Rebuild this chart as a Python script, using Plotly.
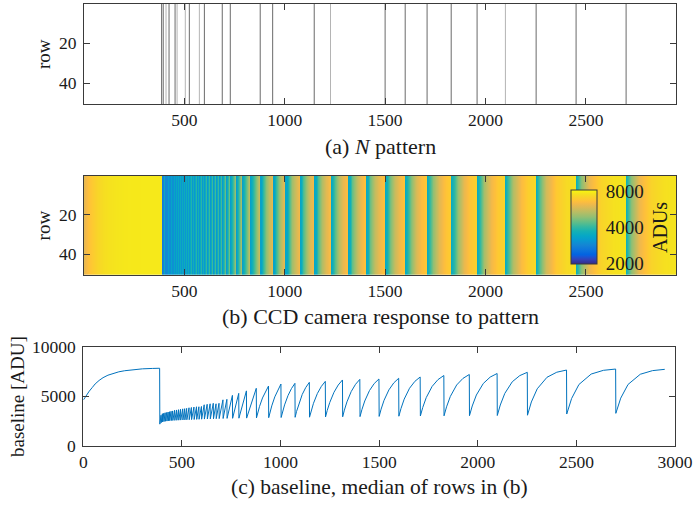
import numpy as np
import plotly.graph_objects as go

# ---------------- data ----------------
# (a) columns of the N-pattern lines that are visible in panel (a)
pattern_dark = [387, 395, 424, 454, 525, 600, 689, 729, 878, 940, 1147,
                1500, 1600, 1709, 1829, 1958, 2252, 2451, 2700]
pattern_light = [409, 464, 505, 575, 1228, 2099]
n_rows = 50
last_col = 2948

# (c) baseline: first (uniformly lit) segment
seg0_x = [1, 10, 20, 30, 45, 60, 80, 100, 125, 150, 180, 210, 250, 300, 350, 387]
seg0_y = [4650, 4950, 5250, 5520, 5880, 6250, 6600, 6880, 7130, 7320, 7470,
          7580, 7690, 7770, 7810, 7830]
# (b) image level of the same columns
img_seg0 = [6100, 6350, 6600, 6800, 7000, 7200, 7400, 7550, 7650, 7720, 7770,
            7800, 7820, 7830, 7830, 7830]

# short saw teeth (start column, value after reset, value before next reset)
dense_start = [388, 395, 402, 409, 416, 424, 431, 438, 446, 454, 464, 474, 484,
               494, 505, 515, 525, 537, 549, 562, 575, 587, 600, 614, 629, 644,
               660, 674, 689, 709, 729, 757, 789, 828]
dense_trough = [2200, 2350, 2420, 2460, 2490, 2510, 2530, 2550, 2560, 2570, 2580,
                2590, 2600, 2610, 2620, 2630, 2640, 2650, 2660, 2670, 2680, 2690,
                2700, 2710, 2720, 2730, 2740, 2750, 2760, 2770, 2780, 2790, 2800, 2810]
dense_peak = [3100, 3250, 3300, 3350, 3380, 3420, 3450, 3500, 3530, 3600, 3630,
              3660, 3700, 3740, 3760, 3790, 3850, 3880, 3920, 3950, 3950, 3980,
              4150, 4200, 4250, 4300, 4250, 4300, 4650, 4700, 5100, 5300, 5550, 5810]
img_dense_trough = [2700, 2800, 2850, 2900, 2900, 2950, 2950, 3000, 3000, 3000,
                    3050, 3050, 3050, 3100, 3100, 3100, 3100, 3100, 3100, 3100,
                    3100, 3100, 3100, 3100, 3100, 3100, 3100, 3100, 3150, 3150,
                    3200, 3200, 3250, 3250]
img_dense_peak = [3400, 3500, 3550, 3600, 3650, 3700, 3750, 3800, 3850, 3900, 3950,
                  4000, 4050, 4100, 4150, 4200, 4250, 4300, 4350, 4400, 4400, 4450,
                  4600, 4650, 4700, 4750, 4700, 4750, 5000, 5050, 5400, 5600, 5800, 6000]

# long saw teeth, values read at 0, 10, 25, 50, 75 and 100 % of each tooth
big_start = [878, 940, 1003, 1074, 1147, 1228, 1315, 1403, 1500, 1600, 1709,
             1829, 1958, 2099, 2252, 2451, 2700]
big_trough = [2830, 2850, 2870, 2890, 2900, 2920, 2940, 2960, 2980, 3000, 3020,
              3040, 3050, 3070, 3100, 3220, 3290]
img_big_trough = [3300, 3300, 3350, 3350, 3400, 3400, 3400, 3450, 3450, 3450, 3500,
                  3500, 3500, 3500, 3550, 3600, 3650]
big_v10 = [3320, 3360, 3425, 3475, 3515, 3570, 3610, 3665, 3710, 3780, 3875,
           3945, 4030, 4130, 4435, 4785, 4820]
big_v25 = [3965, 4040, 4140, 4220, 4300, 4380, 4445, 4535, 4595, 4720, 4875,
           4995, 5135, 5295, 5760, 6195, 6200]
big_v50 = [4840, 4950, 5085, 5190, 5295, 5410, 5490, 5585, 5655, 5815, 6000,
           6145, 6295, 6470, 6920, 7245, 7225]
big_v75 = [5515, 5660, 5785, 5895, 6005, 6140, 6210, 6290, 6355, 6510, 6685,
           6810, 6940, 7090, 7430, 7620, 7590]
big_peak = [6040, 6240, 6310, 6410, 6510, 6650, 6710, 6750, 6820, 6950, 7100,
            7200, 7300, 7420, 7650, 7750, 7720]

cbar_ticks = [2000, 4000, 8000]
clim = [1960, 8270]

# ---------------- assemble curves ----------------
xs, ys, zs = list(seg0_x), list(seg0_y), list(img_seg0)
starts = dense_start + big_start
ends = [s - 1 for s in starts[1:]] + [last_col]
nd = len(dense_start)
for i in range(nd):
    xs += [starts[i], ends[i]]
    ys += [dense_trough[i], dense_peak[i]]
    zs += [img_dense_trough[i], img_dense_peak[i]]
for j in range(len(big_start)):
    s, e = starts[nd + j], ends[nd + j]
    L = e - s
    xs += [s, s + 0.1 * L, s + 0.25 * L, s + 0.5 * L, s + 0.75 * L, e]
    vals = [big_trough[j], big_v10[j], big_v25[j], big_v50[j], big_v75[j], big_peak[j]]
    ys += vals
    zs += [img_big_trough[j]] + vals[1:]
xs = np.array(xs, dtype=float)
ys = np.array(ys, dtype=float)
zs = np.array(zs, dtype=float)

# MATLAB parula (subset of the 64-entry table)
parula_rgb = [(0, (0.2081, 0.1663, 0.5292)), (4, (0.1959, 0.2645, 0.7279)),
              (7, (0.0591, 0.3598, 0.8683)), (8, (0.0117, 0.3875, 0.8820)),
              (12, (0.0498, 0.4586, 0.8641)), (16, (0.0793, 0.5200, 0.8312)),
              (20, (0.0343, 0.5966, 0.8199)), (24, (0.0228, 0.6535, 0.7768)),
              (28, (0.0843, 0.6928, 0.7062)), (32, (0.2178, 0.7250, 0.6193)),
              (36, (0.3953, 0.7459, 0.5244)), (40, (0.5709, 0.7485, 0.4494)),
              (44, (0.7184, 0.7411, 0.3905)), (48, (0.8507, 0.7299, 0.3360)),
              (51, (0.9450, 0.7261, 0.2886)), (53, (0.9938, 0.7455, 0.2403)),
              (55, (0.9955, 0.7861, 0.1967)), (58, (0.9697, 0.8481, 0.1475)),
              (60, (0.9589, 0.8949, 0.1132)), (63, (0.9763, 0.9831, 0.0538))]
parula = [[k / 63, 'rgb(%d,%d,%d)' % tuple(round(255 * c) for c in rgb)] for k, rgb in parula_rgb]

W, H = 693, 506
FONT = 'Liberation Serif'
AX = '#3a3a3a'
TXT = '#1a1a1a'

def px(x):
    return x / W

def py(y):
    return 1 - y / H

fig = go.Figure()

# (a) pattern lines
for cols, col in ((pattern_dark, '#6a6a6a'), (pattern_light, '#b4b4b4')):
    lx, ly = [], []
    for c in cols:
        lx += [c, c, None]
        ly += [0.5, n_rows + 0.5, None]
    fig.add_trace(go.Scatter(x=lx, y=ly, mode='lines', line=dict(color=col, width=1),
                             xaxis='x', yaxis='y', showlegend=False, hoverinfo='skip'))

# (b) camera image
zrow = np.log10(zs)
fig.add_trace(go.Heatmap(
    x=xs, y=[0.5, n_rows + 0.5], z=[zrow, zrow], zsmooth='best',
    colorscale=parula, zmin=np.log10(clim[0]), zmax=np.log10(clim[1]),
    xaxis='x2', yaxis='y2', hoverinfo='skip',
    colorbar=dict(x=px(571), xanchor='left', y=py(227), yanchor='middle',
                  len=74, lenmode='pixels', thickness=26, thicknessmode='pixels',
                  xpad=0, ypad=0, outlinecolor=AX, outlinewidth=1,
                  tickvals=np.log10(cbar_ticks), ticktext=[str(t) for t in cbar_ticks],
                  ticks='outside', ticklen=5, tickcolor='rgba(0,0,0,0)',
                  tickfont=dict(family=FONT, size=19, color=TXT))))

# (c) baseline
fig.add_trace(go.Scatter(x=xs, y=ys, mode='lines', line=dict(color='#0072BD', width=1),
                         xaxis='x3', yaxis='y3', showlegend=False, hoverinfo='skip'))

common = dict(showline=True, linecolor=AX, linewidth=1, mirror='ticks', ticks='inside',
              ticklen=6, tickcolor=AX, showgrid=False, zeroline=False,
              tickfont=dict(family=FONT, size=17.5, color=TXT))
ycommon = dict(common, ticklabelstandoff=3)
xdom = [px(84), px(676)]
fig.update_layout(
    width=W, height=H, margin=dict(l=0, r=0, t=0, b=0, autoexpand=False),
    paper_bgcolor='white', plot_bgcolor='white', showlegend=False,
    xaxis=dict(domain=xdom, range=[0.5, last_col + 0.5], tickvals=[500, 1000, 1500, 2000, 2500],
               anchor='y', **common),
    yaxis=dict(domain=[py(104), py(4)], range=[n_rows + 0.5, 0.5], tickvals=[20, 40],
               anchor='x', **ycommon),
    xaxis2=dict(domain=xdom, range=[0.5, last_col + 0.5], tickvals=[500, 1000, 1500, 2000, 2500],
                anchor='y2', **common),
    yaxis2=dict(domain=[py(275), py(175.7)], range=[n_rows + 0.5, 0.5], tickvals=[20, 40],
                anchor='x2', **ycommon),
    xaxis3=dict(domain=[px(83.3), px(675)], range=[0, 3000], tickvals=[0, 500, 1000, 1500, 2000, 2500, 3000],
                anchor='y3', **common),
    yaxis3=dict(domain=[py(446), py(346.7)], range=[0, 10000], tickvals=[0, 5000, 10000],
                ticktext=['0', '5000', '10000'], anchor='x3', **ycommon),
)

def ann(text, x, y, size=19, angle=0):
    fig.add_annotation(text=text, x=px(x), y=py(y), xref='paper', yref='paper',
                       showarrow=False, xanchor='center', yanchor='middle', textangle=angle,
                       font=dict(family=FONT, size=size, color=TXT))

ann('(a) <i>N</i> pattern', 380, 146.7, size=22)
ann('(b) CCD camera response to pattern', 380, 316.7, size=22)
ann('(c) baseline, median of rows in (b)', 379, 486.7, size=21.5)
ann('row', 43, 54, size=19, angle=-90)
ann('row', 43, 225.4, size=19, angle=-90)
ann('baseline [ADU]', 17, 397, size=19, angle=-90)
ann('ADUs', 660, 228, size=20, angle=-90)

fig.write_html('out.html')
